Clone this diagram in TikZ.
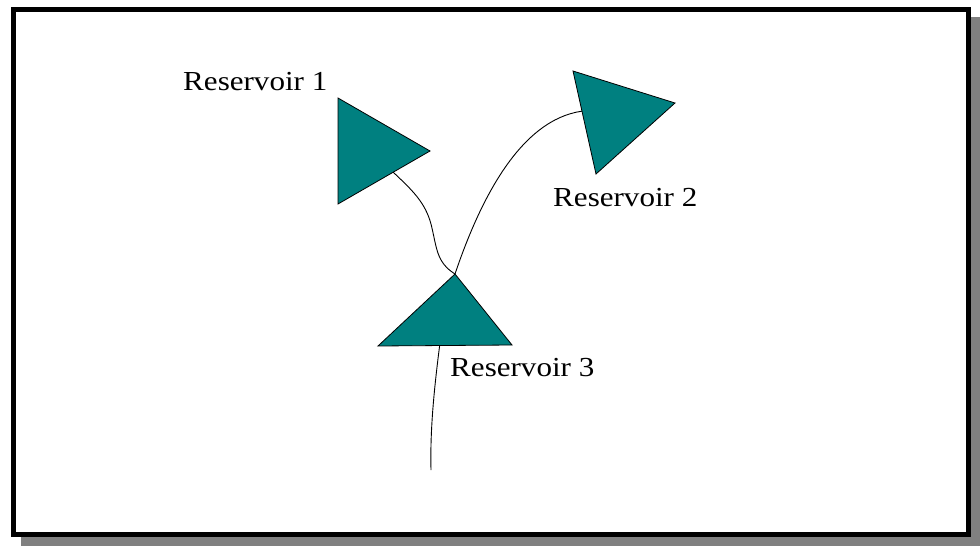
\documentclass[tikz,border=0pt]{standalone}
\usepackage{fontspec}
\setmainfont{Liberation Serif}
\usetikzlibrary{calc}
\definecolor{resteal}{RGB}{0,128,128}
\tikzset{
 resfill/.style = {fill=resteal, draw=black, line width=0.8pt, line join=miter},
 pipe/.style = {draw=black, line width=0.9pt},
 reslabel/.style = {anchor=base west, inner sep=0pt, xscale=1.13,
  font=\fontsize{27.5}{32}\selectfont}
}
\newcommand{\reservoir}[4]{
    \coordinate (#1_a) at #2;
    \coordinate (#1_b) at #3;
    \coordinate (#1_c) at #4;
    \draw[resfill] (#1_a) -- (#1_b) -- (#1_c) -- cycle;
}

\begin{document}
\begin{tikzpicture}[x=1pt, y=-1pt]
    \useasboundingbox (0, 0) rectangle (980, 546);
    % frame with shadow
    \fill[black!50] (21, 17) rectangle (980, 546);
    \fill[white] (11, 7) rectangle (971, 537);
    \draw[line width=5pt] (13.5, 9.5) rectangle (968.5, 534.5);

    \reservoir{r1}{(338, 98)}{(430, 151)}{(338, 204)}
    \reservoir{r2}{(573, 71)}{(675, 103)}{(596, 174)}
    \reservoir{r3}{(455, 274)}{(512, 345)}{(378, 346)}

    \coordinate (r1_out) at ($(r1_b)!0.40!(r1_c)$);
    \coordinate (r2_in) at ($(r2_a)!0.39!(r2_c)$);
    \coordinate (r3_out) at ($(r3_b)!0.54!(r3_c)$);
    \coordinate (sink) at (431, 470);

    \draw[pipe] (r1_out) .. controls (412, 190) and (425, 202) .. (431, 224)
        .. controls (437, 248) and (436, 262) .. (r3_a);
    \draw[pipe] (r3_a) .. controls (480, 200) and (520, 120) .. (r2_in);
    \draw[pipe] (r3_out) .. controls (434, 390) and (430, 430) .. (sink);

    \node[reslabel] (lab1) at (183, 90) {Reservoir 1};
    \node[reslabel] (lab2) at (553, 206) {Reservoir 2};
    \node[reslabel] (lab3) at (450, 376) {Reservoir 3};
\end{tikzpicture}
\end{document}
